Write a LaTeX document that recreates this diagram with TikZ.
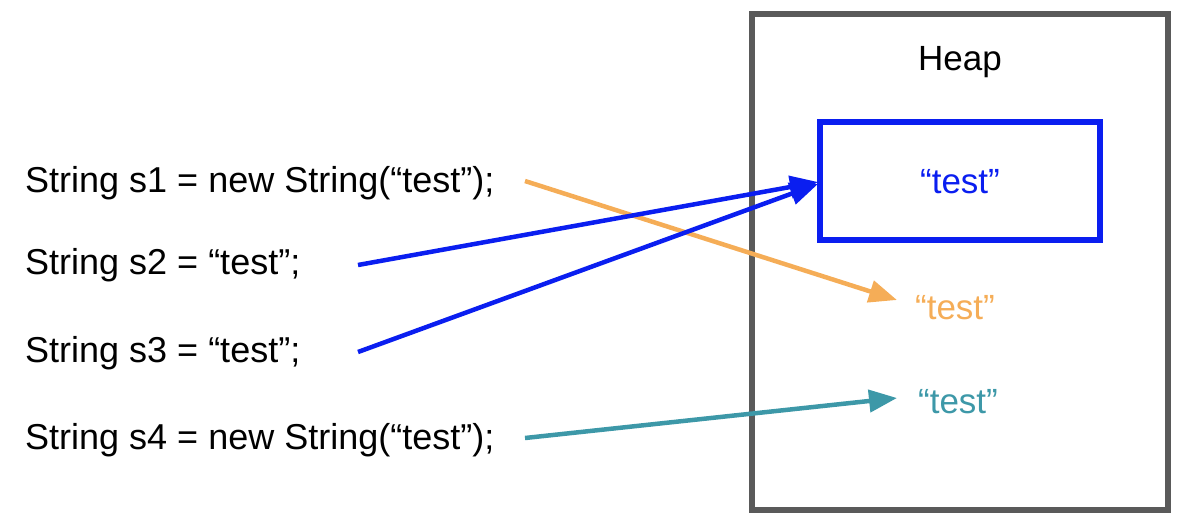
\documentclass[tikz,border=0pt]{standalone}
\usepackage{fontspec}
\setmainfont{Liberation Sans}
\usetikzlibrary{arrows.meta}
\definecolor{cblue}{HTML}{0A1EF0}
\definecolor{corange}{HTML}{F5AD57}
\definecolor{cteal}{HTML}{3D98A8}
\definecolor{cgray}{HTML}{5A5A5A}
\begin{document}
\begin{tikzpicture}[x=1pt,y=-1pt,
  lbl/.style={anchor=west,font=\fontsize{36}{40}\selectfont,inner sep=0},
  val/.style={font=\fontsize{35}{40}\selectfont,inner sep=0},
  arr/.style={line width=4.5pt,-{Triangle[length=28pt,width=22pt]}}]
\useasboundingbox (0,0) rectangle (1196,528);
\draw[cgray,line width=6pt] (752,14) rectangle (1168,510);
\node[val] (heap) at (960,62) {Heap};
\draw[cblue,line width=6pt] (820,122) rectangle (1100,240);
\node[val,text=cblue] (t1) at (960,182) {“test”};
\node[val,text=corange] (t2) at (955,308) {“test”};
\node[val,text=cteal] (t3) at (958,402) {“test”};
\node[lbl] (s1) at (25,183) {String s1 = new String(“test”);};
\node[lbl] (s2) at (25,265) {String s2 = “test”;};
\node[lbl] (s3) at (25,353) {String s3 = “test”;};
\node[lbl] (s4) at (25,440) {String s4 = new String(“test”);};
\coordinate (a1) at (525,181); \coordinate (b1) at (897,300);
\coordinate (a2) at (358,265); \coordinate (b2) at (818,182);
\coordinate (a3) at (358,352); \coordinate (b3) at (818,184);
\coordinate (a4) at (525,438); \coordinate (b4) at (897,398);
\draw[arr,corange] (a1) -- (b1);
\draw[arr,cblue] (a2) -- (b2);
\draw[arr,cblue] (a3) -- (b3);
\draw[arr,cteal] (a4) -- (b4);
\end{tikzpicture}
\end{document}
